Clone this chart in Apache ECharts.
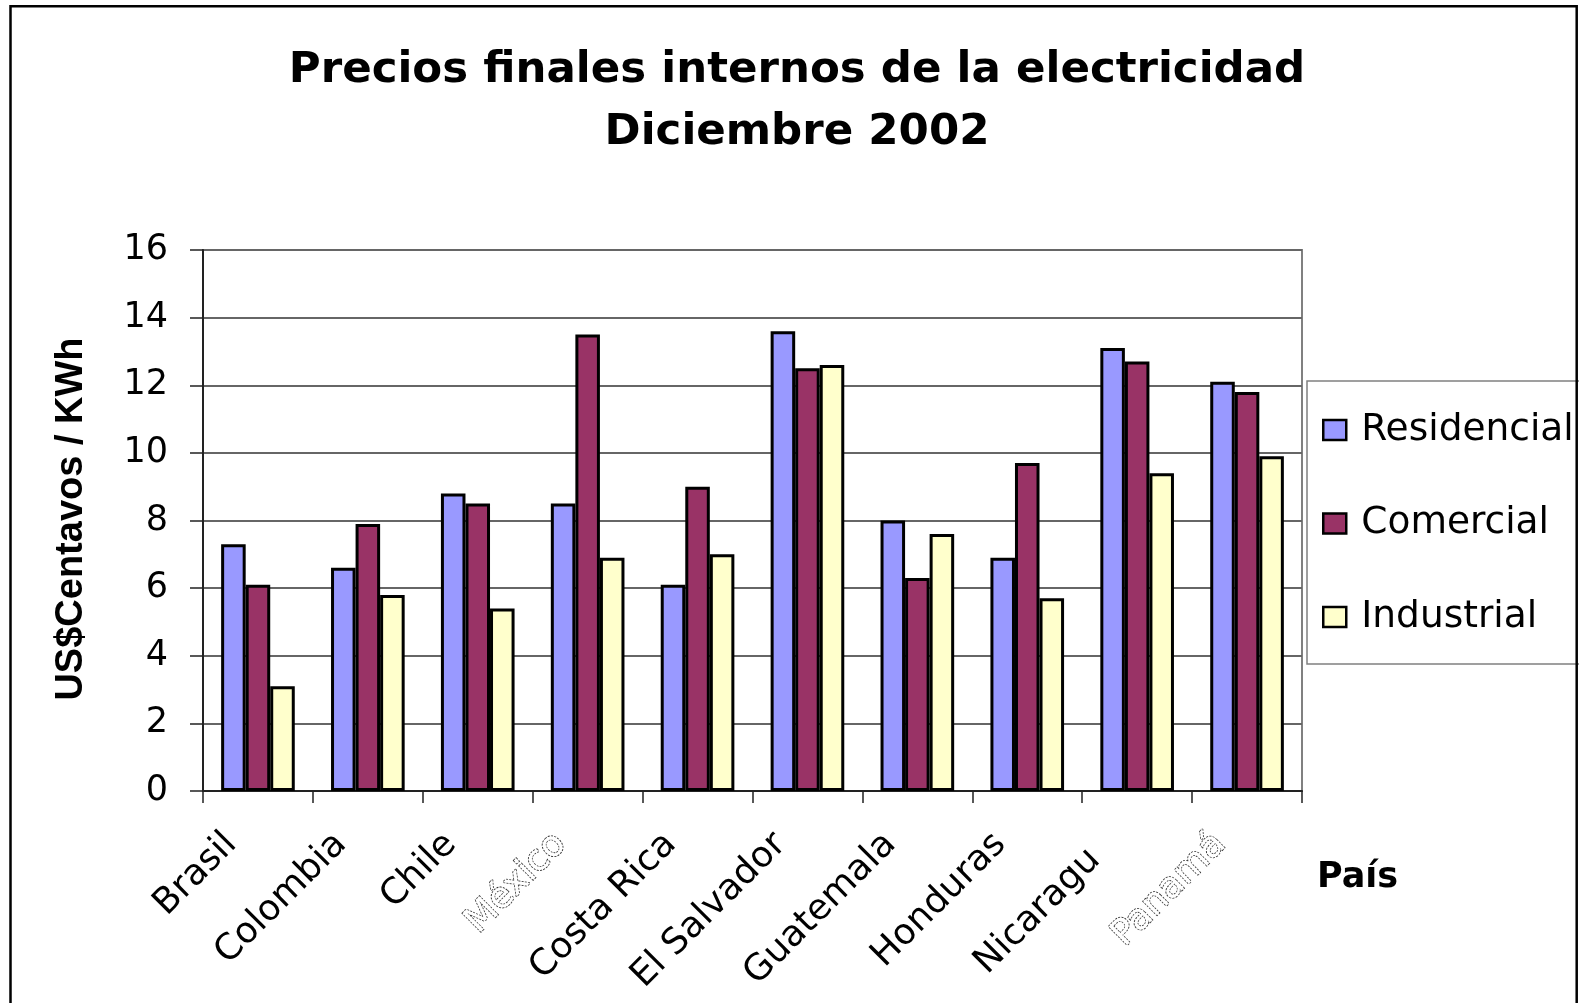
<!DOCTYPE html>
<html>
<head>
<meta charset="utf-8">
<title>Precios finales internos de la electricidad</title>
<script src="https://cdn.jsdelivr.net/npm/echarts@6/dist/echarts.min.js"></script>
<style>
  html, body { margin: 0; padding: 0; background: #fff; }
  #chart { width: 1579px; height: 1003px; }
</style>
</head>
<body>
<div id="chart"></div>
<script>
// Countries on the category axis
const categories = ['Brasil', 'Colombia', 'Chile', 'México', 'Costa Rica',
  'El Salvador', 'Guatemala', 'Honduras', 'Nicaragua', 'Panamá'];

// US cents per kWh, December 2002
const residencial = [7.3, 6.6, 8.8, 8.5, 6.1, 13.6, 8.0, 6.9, 13.1, 12.1];
const comercial   = [6.1, 7.9, 8.5, 13.5, 9.0, 12.5, 6.3, 9.7, 12.7, 11.8];
const industrial  = [3.1, 5.8, 5.4, 6.9, 7.0, 12.6, 7.6, 5.7, 9.4, 9.9];

const seriesNames = ['Residencial', 'Comercial', 'Industrial'];
const yTicks = [0, 2, 4, 6, 8, 10, 12, 14, 16];

const FONT = 'DejaVu Sans';

// Some country labels are drawn as dotted outlines; Nicaragua is clipped
const hollow = {
  color: '#ffffff',
  textBorderColor: '#333333',
  textBorderWidth: 1.6,
  textBorderType: [2, 1.2]
};
const categoryData = categories.map(function (c) {
  if (c === 'México' || c === 'Panamá') {
    return { value: c, textStyle: hollow };
  }
  if (c === 'Nicaragua') {
    return { value: c, textStyle: { width: 166, overflow: 'truncate', ellipsis: '', padding: [0, 60, 0, 0] } };
  }
  return c;
});

const chart = echarts.init(document.getElementById('chart'), null, { renderer: 'canvas' });

const barStyle = function (color) {
  return { color: color, borderColor: '#000', borderWidth: 3 };
};

chart.setOption({
  backgroundColor: '#ffffff',
  animation: false,
  title: {
    text: 'Precios finales internos de la electricidad\nDiciembre 2002',
    left: 797,
    top: 40,
    textAlign: 'center',
    padding: 0,
    textStyle: {
      fontFamily: FONT,
      fontWeight: 'bold',
      fontSize: 43.5,
      lineHeight: 62,
      color: '#000'
    }
  },
  grid: {
    left: 203,
    top: 250,
    right: 277,
    bottom: 212,
    show: true,
    borderColor: '#808080',
    borderWidth: 2,
    backgroundColor: 'transparent'
  },
  legend: {
    data: seriesNames,
    orient: 'vertical',
    left: 1322,
    top: 408,
    padding: 0,
    itemWidth: 23,
    itemHeight: 20,
    itemGap: 49.5,
    icon: 'rect',
    itemStyle: { borderColor: '#000', borderWidth: 2.5 },
    textStyle: {
      fontFamily: FONT,
      fontSize: 37.5,
      lineHeight: 44,
      color: '#000',
      padding: [0, 0, 0, 10]
    }
  },
  xAxis: {
    type: 'category',
    data: categoryData,
    boundaryGap: true,
    axisLine: { show: true, lineStyle: { color: '#222', width: 2 } },
    axisTick: { show: true, length: 12, lineStyle: { color: '#222', width: 1.5 } },
    axisLabel: {
      interval: 0,
      rotate: 45,
      margin: 21,
      fontFamily: FONT,
      fontSize: 36,
      color: '#000',
      padding: [0, 38, 0, 0]
    },
    splitLine: { show: false }
  },
  yAxis: {
    type: 'value',
    min: yTicks[0],
    max: yTicks[yTicks.length - 1],
    interval: 2,
    axisLine: { show: true, lineStyle: { color: '#222', width: 2 } },
    axisTick: { show: true, length: 13, lineStyle: { color: '#222', width: 1.5 } },
    axisLabel: {
      margin: 35,
      fontFamily: FONT,
      fontSize: 35,
      color: '#000'
    },
    splitLine: { show: true, lineStyle: { color: '#666666', width: 1.8 } }
  },
  series: [
    {
      name: seriesNames[0],
      type: 'bar',
      data: residencial,
      barGap: '0%',
      barCategoryGap: '33%',
      itemStyle: barStyle('#9999FF')
    },
    {
      name: seriesNames[1],
      type: 'bar',
      data: comercial,
      barGap: '0%',
      barCategoryGap: '33%',
      itemStyle: barStyle('#993366')
    },
    {
      name: seriesNames[2],
      type: 'bar',
      data: industrial,
      barGap: '0%',
      barCategoryGap: '33%',
      itemStyle: barStyle('#FFFFCC')
    }
  ],
  graphic: [
    // outer frame of the chart area
    {
      type: 'rect',
      silent: true,
      z: 100,
      shape: { x: 10.5, y: 6.3, width: 1566.2, height: 1010 },
      style: { fill: 'none', stroke: '#000', lineWidth: 2.5 }
    },
    // legend frame
    {
      type: 'rect',
      silent: true,
      z: 90,
      shape: { x: 1307, y: 381, width: 275, height: 283 },
      style: { fill: 'none', stroke: '#808080', lineWidth: 1.5 }
    },
    // value-axis title
    {
      type: 'text',
      silent: true,
      x: 72,
      y: 519,
      rotation: Math.PI / 2,
      style: {
        text: 'US$Centavos / KWh',
        fontFamily: 'Liberation Sans',
        fontWeight: 'bold',
        fontSize: 38,
        fill: '#000',
        align: 'center',
        verticalAlign: 'middle'
      }
    },
    // category-axis title
    {
      type: 'text',
      silent: true,
      x: 1317,
      y: 878,
      style: {
        text: 'País',
        fontFamily: FONT,
        fontWeight: 'bold',
        fontSize: 35,
        fill: '#000',
        align: 'left',
        verticalAlign: 'middle'
      }
    }
  ]
});
</script>
</body>
</html>
